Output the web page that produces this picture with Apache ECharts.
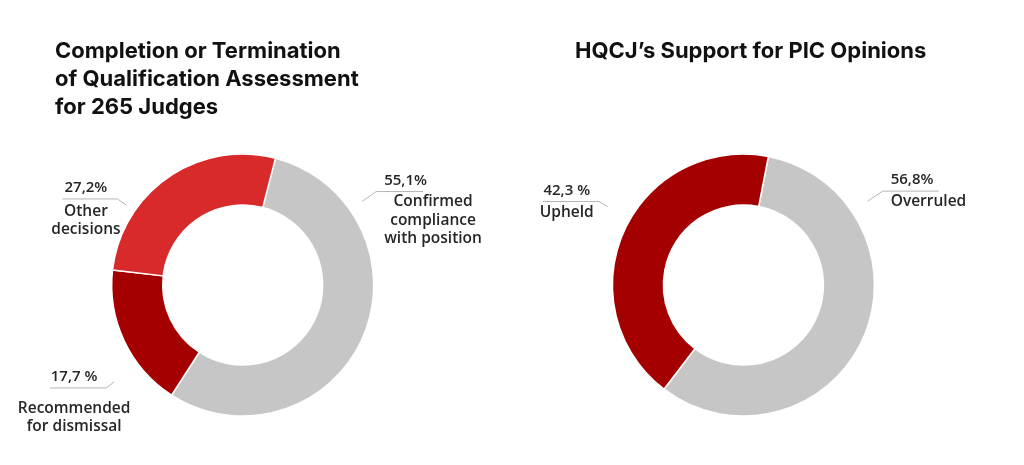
<!DOCTYPE html>
<html>
<head>
<meta charset="utf-8">
<script src="https://cdn.jsdelivr.net/npm/echarts@6/dist/echarts.min.js"></script>
<style>
  html, body { margin: 0; padding: 0; background: #fff; }
  #chart { width: 1024px; height: 465px; }
</style>
</head>
<body>
<div id="chart"></div>
<script>
// data
var judgesNames = ['Confirmed\ncompliance\nwith position', 'Recommended\nfor dismissal', 'Other\ndecisions'];
var judgesValues = [55.1, 17.7, 27.2];
var judgesPctText = ['55,1%', '17,7 %', '27,2%'];

var opinionNames = ['Overruled', 'Upheld'];
var opinionValues = [56.8, 42.3];
var opinionPctText = ['56,8%', '42,3 %'];

var sliceColors = {
  grey: '#c6c6c6',
  red: '#d8292b',
  dark: '#a50000'
};

(function () {
  var myChart = echarts.init(document.getElementById('chart'));

  // ring centres (fractions of the canvas) and leader line spots
  var centers = [[0.237, 0.613], [0.726, 0.613]];
  var spots = [
    [
      { a: 55, r0: 146, r1: 163, run: 47, side: 1, drop: 0 },
      { a: 233, r0: 161, r1: 171, run: 56, side: -1, drop: 10 },
      { a: 304.5, r0: 141, r1: 152, run: 55, side: -1, drop: 2 }
    ],
    [
      { a: 56, r0: 150, r1: 168, run: 56, side: 1, drop: 0 },
      { a: 300, r0: 157, r1: 167, run: 56, side: -1, drop: 1 }
    ]
  ];
  var pctTexts = [judgesPctText, opinionPctText];

  var rich = {
    n: { fontFamily: 'Open Sans', fontSize: 15.5, fontWeight: 600, color: '#262626', lineHeight: 18.5, align: 'center' }
  };
  // one percent style per spot, so each can sit its own distance above the names
  spots.forEach(function (list, si) {
    list.forEach(function (s, di) {
      rich['p' + si + di] = {
        fontFamily: 'Open Sans', fontSize: 15, fontWeight: 600, color: '#262626',
        lineHeight: 24 + 2 * s.drop,
        align: s.side > 0 ? 'left' : 'center'
      };
    });
  });

  function fmt(params) {
    var pct = pctTexts[params.seriesIndex][params.dataIndex];
    var lines = params.name.split('\n').map(function (t) { return '{n|' + t + '}'; });
    return '{p' + params.seriesIndex + params.dataIndex + '|' + pct + '}\n' + lines.join('\n');
  }

  function layout(params) {
    var s = spots[params.seriesIndex][params.dataIndex];
    var c = centers[params.seriesIndex];
    var cx = myChart.getWidth() * c[0];
    var cy = myChart.getHeight() * c[1];
    var rad = s.a * Math.PI / 180;
    var p0 = [cx + s.r0 * Math.sin(rad), cy - s.r0 * Math.cos(rad)];
    var p1 = [cx + s.r1 * Math.sin(rad), cy - s.r1 * Math.cos(rad)];
    var p2 = [p1[0] + s.side * s.run, p1[1]];
    var x = s.side > 0 ? p1[0] + 8 : (p1[0] + p2[0]) / 2 - 4;
    return {
      x: x,
      y: p1[1] - 23 - s.drop,
      align: s.side > 0 ? 'left' : 'center',
      verticalAlign: 'top',
      labelLinePoints: [p0, p1, p2]
    };
  }

  var labelStyle = {
    show: true,
    position: 'outside',
    formatter: fmt,
    rich: rich
  };
  var lineStyle = {
    show: true,
    lineStyle: { color: '#b4b4b4', width: 1 }
  };
  var titleText = { fontFamily: 'Inter', fontSize: 22, fontWeight: 700, color: '#111', lineHeight: 28 };

  var option = {
    animation: false,
    title: [
      {
        text: 'Completion or Termination\nof Qualification Assessment\nfor 265 Judges',
        left: 55,
        top: 37,
        padding: 0,
        textStyle: titleText
      },
      {
        text: 'HQCJ\u2019s Support for PIC Opinions',
        left: 575,
        top: 37,
        padding: 0,
        textStyle: titleText
      }
    ],
    series: [
      {
        name: 'Judges',
        type: 'pie',
        center: ['23.7%', '61.3%'],
        radius: [80, 131],
        startAngle: 75.5,
        avoidLabelOverlap: false,
        silent: true,
        itemStyle: { borderColor: '#fff', borderWidth: 1.5 },
        label: labelStyle,
        labelLine: lineStyle,
        labelLayout: layout,
        data: judgesNames.map(function (n, i) {
          return {
            name: n,
            value: judgesValues[i],
            itemStyle: { color: [sliceColors.grey, sliceColors.dark, sliceColors.red][i] }
          };
        })
      },
      {
        name: 'Opinions',
        type: 'pie',
        center: ['72.6%', '61.3%'],
        radius: [80, 131],
        startAngle: 79,
        avoidLabelOverlap: false,
        silent: true,
        itemStyle: { borderColor: '#fff', borderWidth: 1.5 },
        label: labelStyle,
        labelLine: lineStyle,
        labelLayout: layout,
        data: opinionNames.map(function (n, i) {
          return {
            name: n,
            value: opinionValues[i],
            itemStyle: { color: [sliceColors.grey, sliceColors.dark][i] }
          };
        })
      }
    ]
  };

  myChart.setOption(option);
  window.addEventListener('resize', function () {
    myChart.resize();
  });
})();
</script>
</body>
</html>
